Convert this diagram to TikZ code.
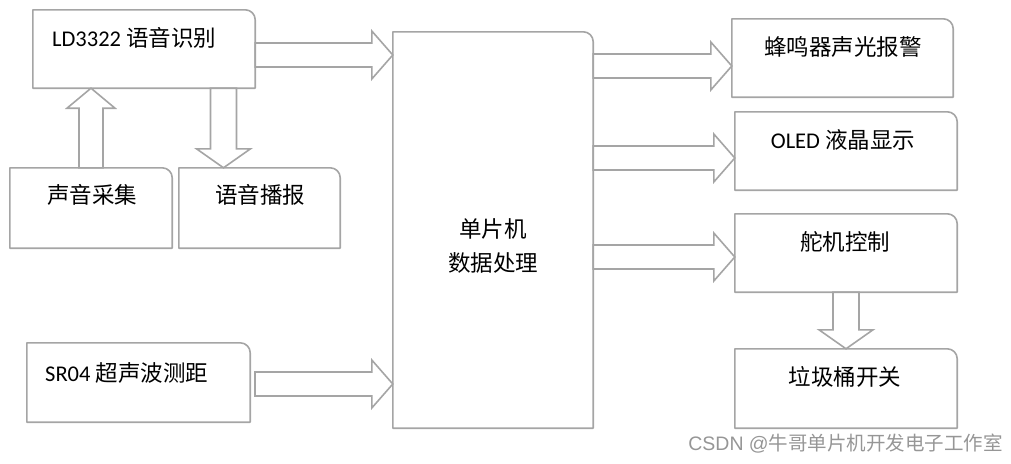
\documentclass[tikz,border=0pt]{standalone}
\usepackage{fontspec}
\setmainfont{Carlito}
\newfontfamily\cjk{Noto Sans CJK SC}
\newfontfamily\wmfont{Liberation Sans}
\usetikzlibrary{calc}

\definecolor{edgegray}{RGB}{165,165,165}
\definecolor{markgray}{RGB}{150,150,150}

\tikzset{
  blockbox/.style={minimum width=222pt,minimum height=78pt,inner sep=0pt},
  boxline/.style={draw=edgegray,line width=1.6pt,line join=round},
  fatarrow/.style={draw=edgegray,line width=1.6pt,line join=miter,fill=white},
  boxtext/.style={font=\fontsize{22.5}{27}\selectfont,inner sep=0pt}
}

% box with only the top right corner rounded
\newcommand{\tagbox}[1]{%
  \draw[boxline] (#1.south west) -- (#1.north west) -- ([xshift=-10pt]#1.north east)
    arc[start angle=90,end angle=0,radius=10pt] -- (#1.south east) -- cycle;}

% block arrows: #1 start of shaft, #2 tip
\newcommand{\rightfat}[2]{%
  \draw[fatarrow] ($(#1)+(0,-12)$) -- ($(#2)+(-21,-12)$) -- ($(#2)+(-21,-24)$) -- (#2)
    -- ($(#2)+(-21,24)$) -- ($(#2)+(-21,12)$) -- ($(#1)+(0,12)$) -- cycle;}
\newcommand{\upfat}[2]{%
  \draw[fatarrow] ($(#1)+(-12,0)$) -- ($(#2)+(-12,20)$) -- ($(#2)+(-24,20)$) -- (#2)
    -- ($(#2)+(24,20)$) -- ($(#2)+(12,20)$) -- ($(#1)+(12,0)$) -- cycle;}
\newcommand{\downfat}[2]{%
  \draw[fatarrow] ($(#1)+(-13,0)$) -- ($(#2)+(-13,-19)$) -- ($(#2)+(-27,-19)$) -- (#2)
    -- ($(#2)+(27,-19)$) -- ($(#2)+(13,-19)$) -- ($(#1)+(13,0)$) -- cycle;}

\begin{document}
\begin{tikzpicture}[x=1pt,y=-1pt]
\useasboundingbox (0,0) rectangle (1011,463);

% boxes
\node[blockbox] (ld) at (144,49) {};
\node[blockbox,minimum width=162pt,minimum height=80pt] (cj) at (91,208) {};
\node[blockbox,minimum width=161pt,minimum height=80pt] (bb) at (259.5,208) {};
\node[blockbox,minimum width=223pt,minimum height=79pt] (sr) at (138.5,382.5) {};
\node[blockbox,minimum width=200pt,minimum height=396pt] (mcu) at (493,230) {};
\node[blockbox,minimum width=221pt] (fm) at (842.5,58) {};
\node[blockbox] (oled) at (846,151) {};
\node[blockbox] (dj) at (846,253) {};
\node[blockbox,minimum height=79pt] (lj) at (846,388.5) {};
\foreach \b in {ld,cj,bb,sr,mcu,fm,oled,dj,lj} {\tagbox{\b}}

% texts
\node[boxtext,anchor=west] (ldtxt) at (52,38) {LD3322 {\cjk 语音识别}};
\node[boxtext] (cjtxt) at (92,195) {\cjk 声音采集};
\node[boxtext] (bbtxt) at (260,195) {\cjk 语音播报};
\node[boxtext,anchor=west] (srtxt) at (45,373) {SR04 {\cjk 超声波测距}};
\node[boxtext,align=center,font=\fontsize{22.5}{34}\selectfont\cjk] (mcutxt) at (493,246) {单片机\\数据处理};
\node[boxtext] (fmtxt) at (843,47) {\cjk 蜂鸣器声光报警};
\node[boxtext] (oledtxt) at (843,140) {OLED {\cjk 液晶显示}};
\node[boxtext] (djtxt) at (845,242) {\cjk 舵机控制};
\node[boxtext] (ljtxt) at (845,377) {\cjk 垃圾桶开关};

% arrows
\rightfat{ld.east |- 0,55}{mcu.west |- 0,55}
\rightfat{255,384}{mcu.west |- 0,384}
\upfat{cj.north -| 91,0}{ld.south -| 91,0}
\downfat{ld.south -| 223.5,0}{bb.north -| 223.5,0}
\rightfat{mcu.east |- 0,66}{fm.west |- 0,66}
\rightfat{mcu.east |- 0,158}{oled.west |- 0,158}
\rightfat{mcu.east |- 0,257}{dj.west |- 0,257}
\downfat{dj.south}{lj.north}

% watermark
\node[anchor=east,inner sep=0pt,text=markgray,font=\fontsize{19.5}{22}\selectfont\wmfont] (mark) at (1003,444)
  {CSDN @{\cjk 牛哥单片机开发电子工作室}};
\end{tikzpicture}
\end{document}
